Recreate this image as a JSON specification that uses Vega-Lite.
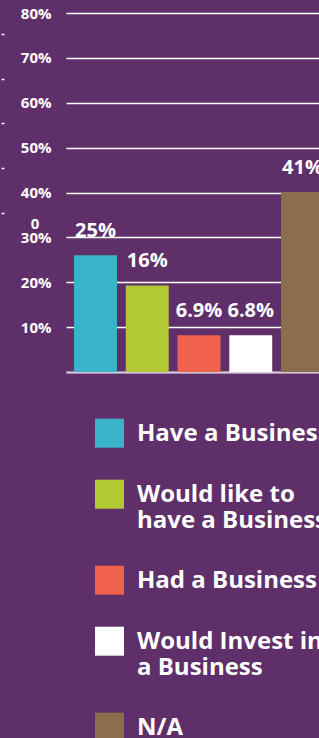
{
  "$schema": "https://vega.github.io/schema/vega-lite/v6.json",
  "width": 266,
  "height": 359,
  "padding": {"left": 0, "top": 6, "right": 0, "bottom": 0},
  "background": "#5F2F69",
  "config": {"view": {"stroke": null}, "font": "Open Sans"},
  "data": {
    "values": [
      {"group": "Have a Business", "value": 26.0, "label": "25%"},
      {"group": "Would like to have a Business", "value": 19.3, "label": "16%"},
      {"group": "Had a Business", "value": 8.2, "label": "6.9%"},
      {"group": "Would Invest in a Business", "value": 8.2, "label": "6.8%"},
      {"group": "N/A", "value": 40.1, "label": "41%"}
    ]
  },
  "encoding": {
    "x": {
      "field": "group", "type": "nominal", "sort": null,
      "scale": {"paddingInner": 0.17, "paddingOuter": 0.155},
      "axis": {"title": null, "labels": false, "ticks": false, "domainColor": "#D4C8DC", "domainWidth": 2}
    }
  },
  "resolve": {"scale": {"y": "independent"}},
  "layer": [
    {
      "mark": {"type": "bar"},
      "encoding": {
        "y": {
          "field": "value", "type": "quantitative",
          "scale": {"domain": [0, 80]},
          "axis": {
            "title": null, "orient": "left",
            "values": [0, 10, 20, 30, 40, 50, 60, 70, 80],
            "domain": false, "ticks": false,
            "labelExpr": "datum.value == 0 ? '' : datum.value + '%'",
            "labelFont": "Open Sans", "labelFontWeight": "bold", "labelFontSize": 15,
            "labelColor": "white", "labelPadding": 15,
            "gridColor": {"condition": {"test": "datum.value === 0", "value": "#D4C8DC"}, "value": "white"},
            "gridWidth": 1.5, "gridOpacity": 1
          }
        },
        "color": {
          "field": "group", "type": "nominal", "sort": null,
          "scale": {
            "domain": ["Have a Business", "Would like to have a Business", "Had a Business", "Would Invest in a Business", "N/A"],
            "range": ["#3AB4C9", "#B2C935", "#F0624C", "#FFFFFF", "#8C6E4C"]
          },
          "legend": {
            "orient": "none", "legendX": 29, "legendY": 405.7, "title": null, "direction": "vertical",
            "symbolType": "square", "symbolSize": 841, "symbolStrokeWidth": 0, "symbolOpacity": 1,
            "labelFont": "Open Sans", "labelFontWeight": "bold", "labelFontSize": 24, "labelColor": "white",
            "labelOffset": 13, "labelLimit": 600, "labelBaseline": "alphabetic", "rowPadding": 32,
            "labelExpr": "datum.label == 'Would like to have a Business' ? ['Would like to', 'have a Business'] : datum.label == 'Would Invest in a Business' ? ['Would Invest in', 'a Business'] : datum.label",
            "encode": {"labels": {"update": {"dy": {"value": 8}, "lineHeight": {"value": 26}}}}
          }
        }
      }
    },
    {
      "mark": {"type": "text", "dy": -18, "baseline": "alphabetic", "font": "Open Sans", "fontWeight": "bold", "fontSize": 20, "color": "white"},
      "encoding": {
        "y": {
          "field": "value", "type": "quantitative",
          "scale": {"domain": [0, 80]},
          "axis": {
            "title": null, "orient": "left", "offset": 62, "grid": false, "domain": false,
            "values": [33.2, 35.4, 45.4, 55.4, 65.4, 75.4],
            "tickSize": 3, "tickWidth": 1.5, "tickColor": "white",
            "tickOpacity": {"condition": {"test": "datum.value < 34", "value": 0}, "value": 1},
            "labelExpr": "datum.value < 34 ? '0' : ''",
            "labelAlign": "center", "labelPadding": -33.5,
            "labelFont": "Open Sans", "labelFontWeight": "bold", "labelFontSize": 15, "labelColor": "white"
          }
        },
        "text": {"field": "label"}
      }
    }
  ]
}
